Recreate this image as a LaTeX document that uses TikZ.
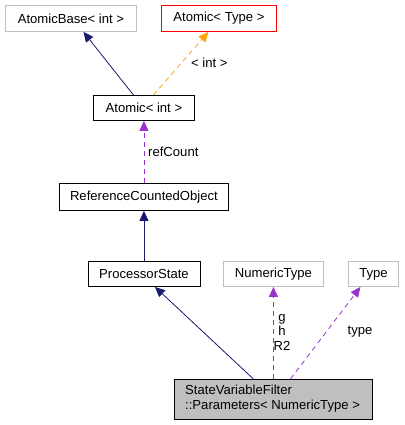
\documentclass[tikz,border=0pt]{standalone}
\usepackage{fontspec}
\setmainfont{Liberation Sans}
\usetikzlibrary{arrows.meta,calc}
\definecolor{navy}{HTML}{191970}
\definecolor{orch}{HTML}{9A32CD}
\definecolor{orng}{HTML}{FFA500}
\definecolor{gbord}{HTML}{BFBFBF}
\definecolor{rbord}{HTML}{FF0000}
\begin{document}
\begin{tikzpicture}[x=1pt,y=-1pt,
  font=\fontsize{13.1}{14.5}\selectfont,
  box/.style={draw=black,line width=0.9pt,inner sep=0pt,minimum height=26pt,anchor=north west},
  gbox/.style={box,draw=gbord},
  rbox/.style={box,draw=rbord},
  inh/.style={draw=navy,line width=0.8pt,-{Triangle[length=10pt,width=9pt]}},
  usage/.style={draw=orch,line width=0.8pt,dash pattern=on 5pt off 4pt,-{Triangle[length=10pt,width=9pt]}},
  tmpl/.style={draw=orng,line width=0.8pt,dash pattern=on 5pt off 4pt,-{Triangle[length=10pt,width=9pt]}},
  lbl/.style={inner sep=0pt}]
\useasboundingbox (0,0) rectangle (404,425);
\node[gbox,minimum width=131pt] (abase) at (5,5) {AtomicBase< int >};
\node[rbox,minimum width=115pt] (atype) at (161,5) {Atomic< Type >};
\node[box,minimum width=101pt,minimum height=25pt] (aint) at (93,95) {Atomic< int >};
\node[box,minimum width=169pt,minimum height=27pt] (rco) at (59,183) {ReferenceCountedObject};
\node[box,minimum width=112pt,minimum height=25pt] (ps) at (87.5,261) {ProcessorState};
\node[gbox,minimum width=100pt,minimum height=25pt] (nt) at (223,261) {NumericType};
\node[gbox,minimum width=50pt,minimum height=25pt] (ty) at (348,261) {Type};
\node[box,fill=gbord,minimum width=198pt,minimum height=40pt] (svf) at (174,379) {};
\node[lbl,anchor=west] (svf1) at (185,390) {StateVariableFilter};
\node[lbl,anchor=west] (svf2) at (185,406) {::Parameters< NumericType >};
% edges
\draw[inh] ([xshift=-10.5pt]aint.north) -- ([xshift=12.5pt]abase.south);
\draw[tmpl] ([xshift=9.5pt]aint.north) -- ([xshift=-10.5pt]atype.south);
\node[lbl,anchor=west] (l1) at (191,63) {< int >};
\draw[usage] (rco.north) -- (aint.south);
\node[lbl,anchor=west] (l2) at (148,152) {refCount};
\draw[inh] (ps.north) -- (rco.south);
\draw[inh] ([xshift=-20pt]svf.north) -- ([xshift=11pt]ps.south);
\draw[usage] (svf.north) -- (nt.south);
\node[lbl,align=center] (l3) at (282,332) {g\\h\\R2};
\draw[usage] ([xshift=17pt]svf.north) -- ([xshift=-13pt]ty.south);
\node[lbl] (l4) at (360,332) {type};
\end{tikzpicture}
\end{document}
